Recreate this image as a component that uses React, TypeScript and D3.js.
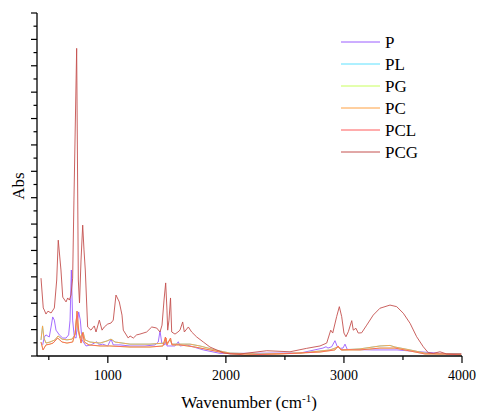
import React from "react";
import * as d3 from "d3";

const seriesNames = ["P", "PL", "PG", "PC", "PCL", "PCG"];
const seriesColors = ["#9a5cff", "#5ce1ff", "#c8ff5c", "#ffa040", "#ff5a5a", "#c4504e"];

const xTicksMajor = [1000, 2000, 3000, 4000];
const xTicksMinor = [500, 1500, 2500, 3500];

// wavenumber, absorbance
const P_wn = [448, 462, 476, 504, 519, 533, 547, 561, 589, 618, 646, 668, 680, 691, 702, 716, 731, 745, 753, 767, 781, 815, 857, 906, 928, 956, 999, 1027, 1046, 1103, 1188, 1315, 1400, 1427, 1442, 1457, 1484, 1493, 1501, 1569, 1597, 1611, 1668, 1809, 1950, 2119, 2373, 2628, 2822, 2848, 2865, 2896, 2924, 2944, 2966, 2992, 3009, 3028, 3246, 3449, 3644, 3813, 3991];
const P_abs = [0.042, 0.072, 0.080, 0.072, 0.110, 0.148, 0.136, 0.098, 0.080, 0.068, 0.068, 0.080, 0.136, 0.326, 0.136, 0.072, 0.068, 0.136, 0.167, 0.136, 0.061, 0.038, 0.042, 0.054, 0.042, 0.045, 0.038, 0.064, 0.042, 0.042, 0.038, 0.038, 0.042, 0.053, 0.095, 0.049, 0.042, 0.061, 0.038, 0.038, 0.054, 0.038, 0.042, 0.023, 0.010, 0.010, 0.011, 0.011, 0.030, 0.035, 0.030, 0.035, 0.058, 0.035, 0.029, 0.030, 0.045, 0.025, 0.023, 0.023, 0.016, 0.010, 0.0076];

// PL and PG lie under the PC / PCL traces (not distinguishable in the picture)
const PL_wn = [434, 447, 459, 476, 510, 552, 578, 612, 654, 697, 722, 735, 747, 764, 790, 807, 849, 934, 993, 1027, 1061, 1188, 1357, 1484, 1493, 1501, 1527, 1543, 1696, 1781, 1908, 2035, 2289, 2628, 2882, 2950, 2983, 3136, 3305, 3390, 3432, 3560, 3687, 3813, 3991];
const PL_abs = [0.061, 0.114, 0.068, 0.049, 0.053, 0.061, 0.076, 0.064, 0.061, 0.064, 0.080, 0.144, 0.098, 0.068, 0.091, 0.061, 0.053, 0.049, 0.057, 0.064, 0.053, 0.045, 0.045, 0.049, 0.068, 0.049, 0.061, 0.045, 0.045, 0.038, 0.023, 0.011, 0.0076, 0.011, 0.023, 0.034, 0.023, 0.027, 0.038, 0.040, 0.034, 0.023, 0.011, 0.0076, 0.0076];

const PG_wn = [434, 451, 476, 510, 536, 575, 612, 654, 702, 724, 739, 753, 773, 787, 801, 840, 934, 1018, 1188, 1357, 1467, 1488, 1501, 1531, 1543, 1611, 1738, 1865, 1992, 2162, 2458, 2797, 2924, 2950, 2975, 3136, 3305, 3432, 3560, 3687, 3856, 3991];
const PG_abs = [0.053, 0.023, 0.042, 0.045, 0.049, 0.068, 0.053, 0.049, 0.053, 0.087, 0.170, 0.098, 0.049, 0.087, 0.053, 0.042, 0.038, 0.038, 0.034, 0.034, 0.038, 0.072, 0.042, 0.068, 0.042, 0.042, 0.034, 0.023, 0.011, 0.004, 0.0076, 0.015, 0.023, 0.038, 0.023, 0.023, 0.030, 0.030, 0.019, 0.0076, 0.0076, 0.004];

const PC_wn = [434, 447, 459, 476, 510, 552, 578, 612, 654, 697, 722, 735, 747, 764, 790, 807, 849, 934, 993, 1027, 1061, 1188, 1357, 1484, 1493, 1501, 1527, 1543, 1696, 1781, 1908, 2035, 2289, 2628, 2882, 2950, 2983, 3136, 3305, 3390, 3432, 3560, 3687, 3813, 3991];
const PC_abs = [0.061, 0.114, 0.068, 0.049, 0.053, 0.061, 0.076, 0.064, 0.061, 0.064, 0.080, 0.144, 0.098, 0.068, 0.091, 0.061, 0.053, 0.049, 0.057, 0.064, 0.053, 0.045, 0.045, 0.049, 0.068, 0.049, 0.061, 0.045, 0.045, 0.038, 0.023, 0.011, 0.0076, 0.011, 0.023, 0.034, 0.023, 0.027, 0.038, 0.040, 0.034, 0.023, 0.011, 0.0076, 0.0076];

const PCL_wn = [434, 451, 476, 510, 536, 575, 612, 654, 702, 724, 739, 753, 773, 787, 801, 840, 934, 1018, 1188, 1357, 1467, 1488, 1501, 1531, 1543, 1611, 1738, 1865, 1992, 2162, 2458, 2797, 2924, 2950, 2975, 3136, 3305, 3432, 3560, 3687, 3856, 3991];
const PCL_abs = [0.053, 0.023, 0.042, 0.045, 0.049, 0.068, 0.053, 0.049, 0.053, 0.087, 0.170, 0.098, 0.049, 0.087, 0.053, 0.042, 0.038, 0.038, 0.034, 0.034, 0.038, 0.072, 0.042, 0.068, 0.042, 0.042, 0.034, 0.023, 0.011, 0.004, 0.0076, 0.015, 0.023, 0.038, 0.023, 0.023, 0.030, 0.030, 0.019, 0.0076, 0.0076, 0.004];

const PCG_wn = [434, 453, 462, 476, 493, 519, 547, 567, 580, 603, 618, 646, 660, 674, 688, 702, 713, 736, 750, 760, 773, 787, 798, 809, 829, 857, 885, 900, 928, 951, 970, 999, 1027, 1046, 1069, 1097, 1120, 1131, 1173, 1188, 1216, 1244, 1272, 1329, 1372, 1414, 1442, 1459, 1476, 1490, 1501, 1507, 1518, 1531, 1541, 1569, 1594, 1611, 1634, 1648, 1682, 1710, 1753, 1809, 1865, 1922, 1978, 2035, 2119, 2346, 2543, 2684, 2797, 2854, 2888, 2905, 2938, 2961, 2981, 3000, 3017, 3037, 3066, 3079, 3102, 3121, 3150, 3193, 3248, 3305, 3390, 3447, 3503, 3560, 3616, 3672, 3714, 3757, 3813, 3870, 3997];
const PCG_abs = [0.295, 0.182, 0.174, 0.159, 0.170, 0.163, 0.182, 0.288, 0.439, 0.326, 0.223, 0.205, 0.220, 0.212, 0.231, 0.295, 0.591, 1.166, 0.288, 0.201, 0.364, 0.496, 0.402, 0.326, 0.110, 0.098, 0.114, 0.091, 0.136, 0.098, 0.110, 0.121, 0.125, 0.136, 0.231, 0.205, 0.155, 0.098, 0.068, 0.076, 0.068, 0.080, 0.083, 0.091, 0.110, 0.106, 0.091, 0.117, 0.212, 0.277, 0.174, 0.098, 0.136, 0.220, 0.091, 0.083, 0.091, 0.098, 0.129, 0.091, 0.110, 0.091, 0.072, 0.053, 0.034, 0.023, 0.0125, 0.0076, 0.0076, 0.020, 0.016, 0.029, 0.038, 0.049, 0.098, 0.087, 0.149, 0.187, 0.149, 0.087, 0.073, 0.092, 0.134, 0.098, 0.105, 0.087, 0.088, 0.117, 0.155, 0.181, 0.193, 0.187, 0.162, 0.124, 0.073, 0.035, 0.0125, 0.010, 0.016, 0.0076, 0.0076];

const seriesWn = [P_wn, PL_wn, PG_wn, PC_wn, PCL_wn, PCG_wn];
const seriesAbs = [P_abs, PL_abs, PG_abs, PC_abs, PCL_abs, PCG_abs];

const W = 478;
const H = 411;
const left = 37;
const right = 462;
const top = 13;
const bottom = 356;
const font = "'Liberation Serif', 'Times New Roman', serif";

export default function App() {
  const x = d3.scaleLinear().domain([400, 4000]).range([left, right]);
  const y = d3.scaleLinear().domain([0, 1.3]).range([bottom, top]);
  const yTicks = d3.range(0, 27).map((i) => i * 0.05);
  const line = d3
    .line<[number, number]>()
    .x((d) => x(d[0]))
    .y((d) => y(d[1]));

  return (
    <svg width={W} height={H} style={{ position: "absolute", left: 0, top: 0, background: "#fff" }}>
      <g>
        {seriesNames.map((name, i) => {
          const pts: [number, number][] = seriesWn[i].map((w, j) => [w, seriesAbs[i][j]]);
          return (
            <path
              key={name}
              d={line(pts) || ""}
              fill="none"
              stroke={seriesColors[i]}
              strokeWidth={0.9}
              strokeLinejoin="round"
            />
          );
        })}
      </g>
      {/* axes */}
      <line x1={left} x2={left} y1={top} y2={bottom} stroke="#000" strokeWidth={1.3} />
      <line x1={left} x2={right} y1={bottom} y2={bottom} stroke="#000" strokeWidth={1.3} />
      {yTicks.map((t, i) => (
        <line
          key={"yt" + i}
          x1={left}
          x2={left - (i % 2 === 0 ? 6 : 3.5)}
          y1={y(t)}
          y2={y(t)}
          stroke="#000"
          strokeWidth={1.2}
        />
      ))}
      {xTicksMajor.map((t) => (
        <g key={"xm" + t}>
          <line x1={x(t)} x2={x(t)} y1={bottom} y2={bottom + 7} stroke="#000" strokeWidth={1.2} />
          <text x={x(t)} y={bottom + 24} textAnchor="middle" fontFamily={font} fontSize={14}>
            {t}
          </text>
        </g>
      ))}
      {xTicksMinor.map((t) => (
        <line key={"xn" + t} x1={x(t)} x2={x(t)} y1={bottom} y2={bottom + 4} stroke="#000" strokeWidth={1.2} />
      ))}
      <text x={249} y={408} textAnchor="middle" fontFamily={font} fontSize={17}>
        Wavenumber (cm
        <tspan dy={-6} fontSize={11}>-1</tspan>
        <tspan dy={6}>)</tspan>
      </text>
      <text
        transform={`translate(24, 186) rotate(-90)`}
        textAnchor="middle"
        fontFamily={font}
        fontSize={17}
      >
        Abs
      </text>
      {/* legend */}
      {seriesNames.map((name, i) => (
        <g key={"lg" + name} transform={`translate(0, ${42 + i * 22})`}>
          <line x1={341} x2={380} y1={0} y2={0} stroke={seriesColors[i]} strokeWidth={1} />
          <text x={385} y={6} fontFamily={font} fontSize={17}>
            {name}
          </text>
        </g>
      ))}
    </svg>
  );
}
